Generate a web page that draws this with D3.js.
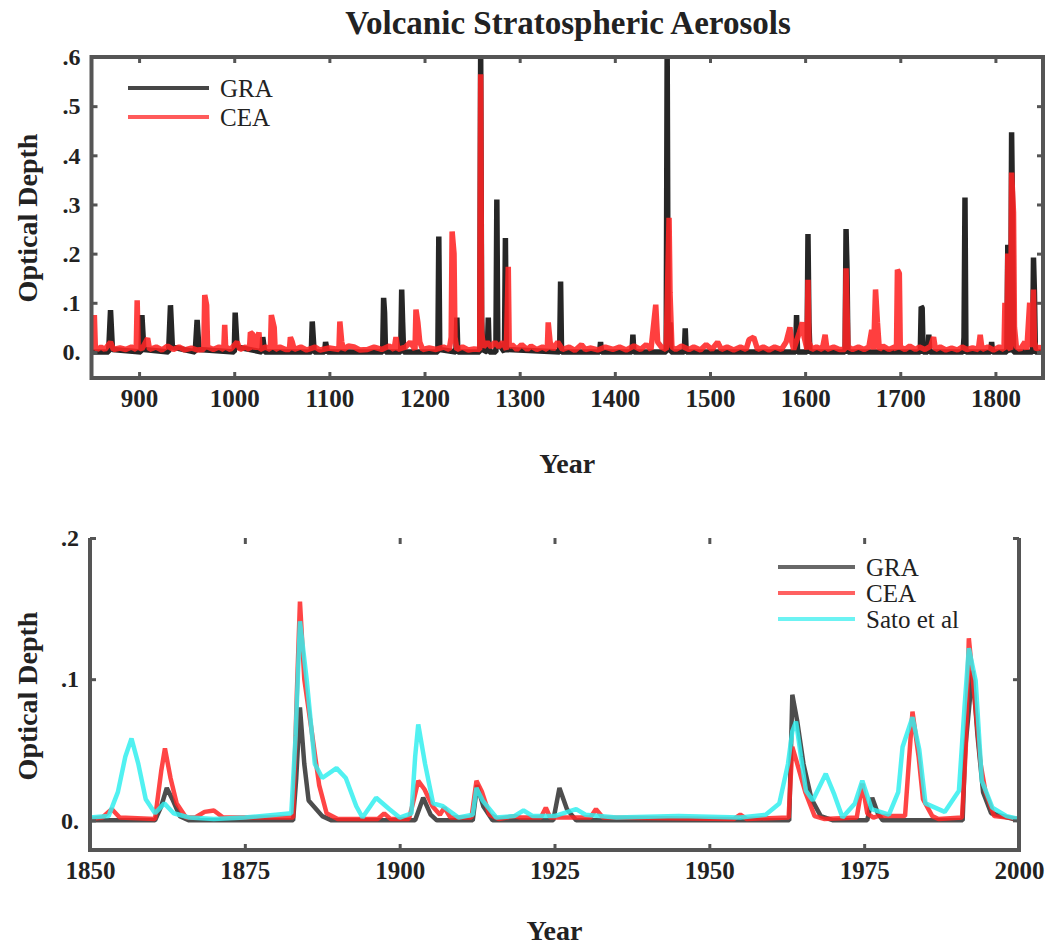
<!DOCTYPE html>
<html>
<head>
<meta charset="utf-8">
<script src="https://cdn.jsdelivr.net/npm/d3@7"></script>
<style>
  body { margin: 0; background: #fff; }
  svg text { font-family: "Liberation Serif", "Times New Roman", serif; fill: #222; }
  .tick text { font-weight: bold; }
  .axis-title { font-weight: bold; }
</style>
</head>
<body>
<svg id="chart" width="1049" height="949"></svg>
<script>
// ---- data: [year, optical depth] ----
const graTop = [
  [850,0],[868,0],[870,0.085],[872,0.005],[902,0],[903,0.075],[905,0.005],
  [931,0],[933,0.095],[935,0.01],[959,0],[961,0.065],[963,0.005],
  [1000,0],[1001,0.08],[1003,0.01],[1029,0],[1030,0.03],[1032,0],
  [1081,0],[1082,0.062],[1084,0],[1095,0],[1096,0.02],[1098,0],
  [1156,0],[1157,0.11],[1158,0.08],[1159,0],[1175,0],[1176,0.127],[1177,0.06],[1178,0],
  [1214,0],[1215,0.235],[1216,0.005],[1233,0],[1234,0.07],[1235,0],
  [1258,0],[1259,0.62],[1260,0.07],[1261,0.005],[1266,0],[1267,0.07],[1268,0],
  [1275,0],[1276,0.31],[1277,0.02],[1284,0],[1285,0.232],[1286,0.005],
  [1342,0],[1343,0.143],[1344,0],[1384,0],[1385,0.02],[1386,0],
  [1418,0],[1419,0.035],[1420,0],[1454,0],[1455,0.62],[1456,0.06],[1457,0.005],[1458,0.06],[1459,0],
  [1473,0],[1474,0.048],[1475,0],[1590,0],[1591,0.075],[1592,0],
  [1602,0],[1603,0.24],[1604,0.06],[1605,0],[1642,0],[1643,0.25],[1644,0.17],[1645,0],
  [1721,0],[1722,0.092],[1723,0.09],[1724,0],[1729,0],[1730,0.035],[1731,0],
  [1766,0],[1767,0.03],[1768,0.314],[1769,0],[1795,0],[1796,0.02],[1797,0],
  [1812,0],[1813,0.218],[1814,0.01],[1816,0],[1817,0.447],[1818,0.28],[1819,0],
  [1839,0],[1840,0.192],[1841,0.12],[1842,0],[1850,0]
];

const ceaTop = [
  [850,0.01],[852,0.005],[853,0.075],[854,0.01],[856,0.005],[860,0.01],[864,0.005],[870,0.02],
  [873,0.005],[880,0.008],[886,0.005],[892,0.01],[897,0.005],[898,0.105],[899,0.01],[903,0.006],
  [909,0.028],[911,0.005],[918,0.01],[924,0.004],[930,0.012],[936,0.005],[942,0.01],[948,0.004],
  [955,0.008],[961,0.004],[968,0.005],[969,0.116],[971,0.095],[972,0.01],[978,0.005],[984,0.01],
  [989,0.005],[990,0.055],[991,0.01],[996,0.005],[1003,0.02],[1006,0.005],[1012,0.01],[1016,0.005],
  [1017,0.04],[1020,0.035],[1022,0.005],[1026,0.04],[1027,0.005],[1033,0.01],[1038,0.005],
  [1039,0.075],[1042,0.05],[1043,0.005],[1048,0.01],[1054,0.005],[1058,0.005],[1059,0.03],
  [1061,0.02],[1063,0.005],[1070,0.01],[1076,0.004],[1085,0.01],[1090,0.004],[1100,0.008],
  [1110,0.005],[1111,0.062],[1113,0.02],[1115,0.005],[1120,0.012],[1126,0.01],[1132,0.004],
  [1140,0.005],[1147,0.01],[1155,0.005],[1163,0.012],[1168,0.005],[1170,0.03],[1172,0.005],
  [1180,0.01],[1185,0.02],[1190,0.005],[1191,0.086],[1193,0.06],[1195,0.02],[1198,0.005],
  [1205,0.008],[1212,0.005],[1220,0.01],[1226,0.005],[1228,0.03],[1229,0.245],[1231,0.2],
  [1232,0.03],[1234,0.005],[1240,0.01],[1246,0.004],[1252,0.006],[1258,0.005],[1259,0.565],
  [1260,0.04],[1262,0.01],[1266,0.02],[1270,0.01],[1274,0.02],[1278,0.01],[1282,0.02],
  [1286,0.005],[1288,0.173],[1289,0.01],[1292,0.015],[1297,0.005],[1302,0.015],[1308,0.005],
  [1312,0.012],[1318,0.005],[1324,0.01],[1329,0.005],[1330,0.06],[1332,0.02],[1335,0.005],
  [1340,0.02],[1345,0.005],[1352,0.01],[1358,0.003],[1365,0.015],[1369,0.005],[1375,0.008],
  [1382,0.004],[1390,0.01],[1398,0.005],[1405,0.01],[1412,0.004],[1420,0.012],[1427,0.005],
  [1433,0.015],[1438,0.005],[1443,0.096],[1445,0.02],[1449,0.01],[1454,0.005],[1457,0.273],
  [1458,0.12],[1460,0.01],[1464,0.005],[1470,0.012],[1478,0.005],[1483,0.01],[1490,0.004],
  [1496,0.015],[1502,0.005],[1508,0.02],[1512,0.005],[1518,0.01],[1525,0.004],[1532,0.01],
  [1538,0.005],[1541,0.025],[1546,0.03],[1550,0.005],[1556,0.01],[1562,0.004],[1568,0.01],
  [1575,0.005],[1580,0.02],[1584,0.05],[1586,0.02],[1588,0.005],[1594,0.04],[1597,0.06],
  [1599,0.03],[1602,0.005],[1603,0.147],[1604,0.02],[1607,0.005],[1612,0.01],[1618,0.005],
  [1621,0.035],[1623,0.005],[1630,0.01],[1636,0.005],[1642,0.005],[1643,0.17],[1645,0.01],
  [1650,0.005],[1656,0.01],[1662,0.005],[1667,0.01],[1670,0.045],[1672,0.005],[1674,0.127],
  [1676,0.06],[1678,0.005],[1682,0.012],[1688,0.005],[1694,0.01],[1696,0.005],[1697,0.167],
  [1699,0.16],[1700,0.01],[1705,0.005],[1710,0.012],[1716,0.005],[1720,0.01],[1726,0.005],
  [1732,0.012],[1735,0.03],[1737,0.005],[1742,0.01],[1748,0.004],[1754,0.008],[1760,0.004],
  [1765,0.01],[1770,0.005],[1776,0.008],[1782,0.005],[1784,0.035],[1786,0.005],[1792,0.01],
  [1798,0.004],[1804,0.01],[1809,0.005],[1810,0.1],[1812,0.005],[1813,0.2],[1814,0.01],
  [1816,0.005],[1817,0.365],[1819,0.284],[1820,0.05],[1822,0.01],[1826,0.005],[1831,0.02],
  [1833,0.005],[1836,0.1],[1838,0.01],[1840,0.127],[1841,0.02],[1843,0.005],[1847,0.01],[1850,0.005]
];

const graBottom = [
  [1850,0],[1860.5,0],[1861.5,0.01],[1862.4,0.023],[1863.3,0.015],[1864.5,0.003],[1866,0],
  [1882.8,0],[1883.3,0.03],[1883.9,0.08],[1884.6,0.04],[1885.3,0.014],[1886.5,0.008],[1887.5,0.003],[1889,0],
  [1902.5,0],[1903.8,0.016],[1905,0.004],[1906,0],[1911.8,0],[1912.5,0.025],[1913.5,0.01],[1915,0],
  [1924.8,0],[1925.8,0.023],[1927,0.008],[1928.5,0],
  [1962.9,0],[1963.4,0.089],[1964.2,0.07],[1965.2,0.04],[1966.5,0.015],[1968,0.003],[1970,0],
  [1975.5,0],[1976.3,0.016],[1977.2,0.005],[1978,0],
  [1990.9,0],[1991.3,0.05],[1992.5,0.106],[1993.3,0.06],[1994.2,0.02],[1995.5,0.005],[2000,0]
];

const ceaBottom = [
  [1850,0.001],[1852,0.002],[1853.5,0.008],[1854.8,0.002],[1860.5,0.001],[1861.5,0.035],[1862.1,0.051],
  [1863,0.03],[1864,0.012],[1865.5,0.002],[1867,0.002],[1868.5,0.006],[1870,0.007],[1871.5,0.002],
  [1882.8,0.002],[1883.4,0.09],[1883.9,0.155],[1884.6,0.1],[1885.8,0.063],[1887,0.025],[1888.2,0.005],[1890,0.001],
  [1896.5,0.001],[1897.5,0.005],[1898.5,0.001],[1901.5,0.001],[1902.3,0.015],[1903,0.028],[1904,0.022],
  [1905.3,0.01],[1906.5,0.004],[1907.2,0.009],[1908.2,0.002],[1911.6,0.002],[1912.4,0.028],[1913.3,0.02],
  [1914.5,0.004],[1916,0.001],[1918.5,0.003],[1919.5,0.002],[1922.8,0.002],[1923.6,0.009],[1924.3,0.002],
  [1930.8,0.002],[1931.7,0.008],[1932.8,0.002],[1954,0.001],[1955,0.004],[1956,0.001],
  [1962.8,0.002],[1963.4,0.052],[1964.2,0.04],[1965.5,0.02],[1967,0.003],[1968.5,0.001],
  [1973.8,0.002],[1974.7,0.026],[1975.5,0.005],[1976.5,0.002],[1977.2,0.003],
  [1981.6,0.003],[1982.8,0.077],[1983.8,0.045],[1984.5,0.015],[1986,0.003],[1987,0.001],
  [1990.8,0.002],[1991.4,0.05],[1991.9,0.129],[1992.8,0.088],[1993.8,0.04],[1994.6,0.02],[1996,0.003],[2000,0.001]
];

const satoBottom = [
  [1850,0.002],[1853,0.003],[1854.5,0.02],[1855.7,0.045],[1856.7,0.058],[1857.8,0.04],[1859,0.015],
  [1860.5,0.005],[1862,0.012],[1863.5,0.005],[1866,0.002],[1870,0.001],[1875,0.002],[1880,0.004],
  [1882.5,0.005],[1883.2,0.06],[1883.9,0.141],[1885,0.099],[1886.3,0.04],[1887.5,0.03],[1889.8,0.037],
  [1891.3,0.03],[1893,0.01],[1894,0.002],[1896.2,0.016],[1898.3,0.008],[1900,0.002],[1901.9,0.005],
  [1902.5,0.045],[1903,0.068],[1904.1,0.04],[1905.4,0.012],[1907,0.01],[1909.5,0.002],[1911.8,0.004],
  [1912.4,0.023],[1913.4,0.014],[1915.6,0.002],[1918.5,0.003],[1920,0.007],[1921.5,0.003],[1925,0.003],
  [1928.5,0.008],[1930,0.004],[1935,0.002],[1945,0.003],[1955,0.002],[1959.1,0.004],[1961.3,0.012],
  [1962.7,0.04],[1963.4,0.063],[1964,0.07],[1964.8,0.045],[1965.6,0.021],[1966.7,0.014],[1968.8,0.033],
  [1970.2,0.018],[1971.5,0.002],[1973.5,0.012],[1974.7,0.028],[1976.2,0.008],[1979,0.004],[1980.5,0.02],
  [1981.2,0.052],[1982.8,0.073],[1983.9,0.05],[1984.9,0.012],[1988,0.006],[1990.3,0.021],[1991.2,0.08],
  [1991.9,0.122],[1993,0.099],[1994,0.028],[1995.7,0.009],[1998,0.003],[2000,0.001]
];

// ticks
const topYearTicks = [900,1000,1100,1200,1300,1400,1500,1600,1700,1800];
const topDepthTicks = [0,0.1,0.2,0.3,0.4,0.5,0.6];
const topDepthLabels = ["0.",".1",".2",".3",".4",".5",".6"];
const bottomYearTicks = [1850,1875,1900,1925,1950,1975,2000];
const bottomDepthTicks = [0,0.1,0.2];
const bottomDepthLabels = ["0.",".1",".2"];

const colors = {GRA: "#262626", CEA: "#ff2424", Sato: "#33eeee"};

const svg = d3.select("#chart");

// ---- helper to draw one panel ----
function drawPanel(cfg) {
  const x = d3.scaleLinear().domain(cfg.xDomain).range(cfg.xRange);
  const y = d3.scaleLinear().domain(cfg.yDomain).range(cfg.yRange);
  const g = svg.append("g");

  g.append("clipPath").attr("id", cfg.id + "-clip")
    .append("rect")
      .attr("x", cfg.xRange[0]).attr("y", cfg.yRange[1])
      .attr("width", cfg.xRange[1] - cfg.xRange[0])
      .attr("height", cfg.yRange[0] - cfg.yRange[1]);

  const line = d3.line().x(d => x(d[0])).y(d => y(d[1]));

  cfg.series.forEach(s => {
    g.append("path")
      .datum(s.data)
      .attr("clip-path", `url(#${cfg.id}-clip)`)
      .attr("fill", "none")
      .attr("stroke", s.color)
      .attr("stroke-opacity", s.opacity)
      .attr("stroke-width", cfg.lineWidth)
      .attr("stroke-linejoin", "bevel")
      .attr("d", line);
  });

  const axisStyle = sel => {
    sel.select(".domain").remove();
    sel.selectAll(".tick line").attr("stroke", "#555").attr("stroke-width", 3);
  };

  // left / bottom axes with labels, ticks inward
  g.append("g").attr("transform", `translate(${cfg.xRange[0]},0)`)
    .call(d3.axisLeft(y).tickValues(cfg.yTicks).tickFormat((d, i) => cfg.yLabels[i])
      .tickSizeInner(-6).tickSizeOuter(0).tickPadding(11))
    .call(axisStyle)
    .selectAll("text").attr("font-size", 24).attr("fill", "#222");

  g.append("g").attr("transform", `translate(0,${cfg.yRange[0]})`)
    .call(d3.axisBottom(x).tickValues(cfg.xTicks).tickFormat(d3.format("d"))
      .tickSizeInner(-6).tickSizeOuter(0).tickPadding(11))
    .call(axisStyle)
    .selectAll("text").attr("font-size", 25).attr("fill", "#222");

  // mirrored ticks on top and right
  g.append("g").attr("transform", `translate(${cfg.xRange[1]},0)`)
    .call(d3.axisRight(y).tickValues(cfg.yTicks).tickFormat("").tickSizeInner(-6).tickSizeOuter(0))
    .call(axisStyle);
  g.append("g").attr("transform", `translate(0,${cfg.yRange[1]})`)
    .call(d3.axisTop(x).tickValues(cfg.xTicks).tickFormat("").tickSizeInner(-6).tickSizeOuter(0))
    .call(axisStyle);

  // frame
  const x0 = cfg.xRange[0], x1 = cfg.xRange[1], y0 = cfg.yRange[1], y1 = cfg.yRange[0];
  const framePath = cfg.openTop
    ? `M${x0},${y0}V${y1}H${x1}V${y0}`
    : `M${x0},${y0}V${y1}H${x1}V${y0}Z`;
  g.append("path").attr("d", framePath)
    .attr("fill", "none").attr("stroke", "#555").attr("stroke-width", 4);

  // axis titles
  g.append("text").attr("class", "axis-title")
    .attr("transform", `translate(37,${cfg.yTitleY}) rotate(-90)`)
    .attr("text-anchor", "middle").attr("font-size", 28)
    .text("Optical Depth");
  g.append("text").attr("class", "axis-title")
    .attr("x", (x0 + x1) / 2).attr("y", cfg.xTitleY)
    .attr("text-anchor", "middle").attr("font-size", 28)
    .text("Year");

  // legend
  const lg = g.append("g");
  cfg.series.forEach((s, i) => {
    const ly = cfg.legend.y + i * cfg.legend.step;
    lg.append("line")
      .attr("x1", cfg.legend.x).attr("x2", cfg.legend.x + cfg.legend.len)
      .attr("y1", ly).attr("y2", ly)
      .attr("stroke", s.color).attr("stroke-opacity", s.opacity * 0.85)
      .attr("stroke-width", 4);
    lg.append("text")
      .attr("x", cfg.legend.x + cfg.legend.len + 11).attr("y", ly + 9)
      .attr("font-size", 25)
      .text(s.name);
  });
}

// title
svg.append("text").attr("class", "axis-title")
  .attr("x", 568).attr("y", 34).attr("text-anchor", "middle")
  .attr("font-size", 33)
  .text("Volcanic Stratospheric Aerosols");

drawPanel({
  id: "top",
  xDomain: [850, 1850], xRange: [91.5, 1043],
  yDomain: [-0.053, 0.6], yRange: [378, 57],
  xTicks: topYearTicks, yTicks: topDepthTicks, yLabels: topDepthLabels,
  lineWidth: 5.5, openTop: false,
  yTitleY: 218, xTitleY: 473,
  legend: {x: 128, y: 88, step: 29, len: 81},
  series: [
    {name: "GRA", data: graTop, color: colors.GRA, opacity: 1},
    {name: "CEA", data: ceaTop, color: colors.CEA, opacity: 0.88}
  ]
});

drawPanel({
  id: "bottom",
  xDomain: [1850, 2000], xRange: [90, 1019],
  yDomain: [-0.021, 0.2], yRange: [850, 538],
  xTicks: bottomYearTicks, yTicks: bottomDepthTicks, yLabels: bottomDepthLabels,
  lineWidth: 4.5, openTop: true,
  yTitleY: 696, xTitleY: 940,
  legend: {x: 778, y: 567, step: 26, len: 77},
  series: [
    {name: "GRA", data: graBottom, color: "#3a3a3a", opacity: 0.9},
    {name: "CEA", data: ceaBottom, color: colors.CEA, opacity: 0.85},
    {name: "Sato et al", data: satoBottom, color: colors.Sato, opacity: 0.85}
  ]
});
</script>
</body>
</html>
